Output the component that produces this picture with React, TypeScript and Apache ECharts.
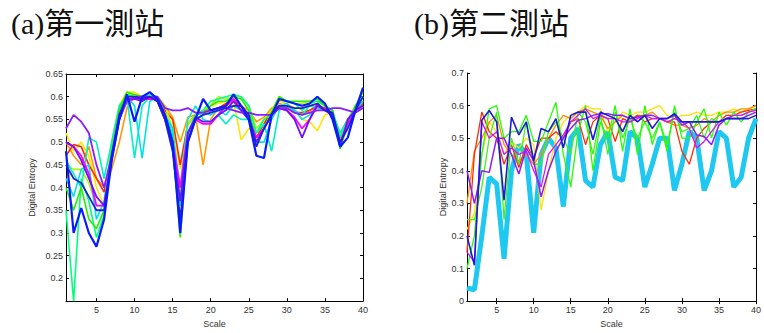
import React, { useEffect, useRef } from "react";
import * as echarts from "echarts";

// ---- Data ----
const scales = Array.from({ length: 40 }, (_, i) => i + 1);
const xTickValues = [5, 10, 15, 20, 25, 30, 35, 40];
const titleA = "(a)第一測站";
const titleB = "(b)第二測站";

// Station 1 (left) series
const aOrange = [0.5,0.47,0.45,0.49,0.42,0.4,0.44,0.5,0.575,0.6,0.6,0.6,0.6,0.58,0.555,0.5,0.555,0.56,0.45,0.55,0.575,0.58,0.59,0.58,0.57,0.545,0.555,0.575,0.585,0.58,0.57,0.56,0.57,0.58,0.57,0.56,0.52,0.55,0.57,0.59];
const aYellow = [0.52,0.48,0.5,0.47,0.4,0.36,0.5,0.58,0.61,0.61,0.6,0.6,0.6,0.57,0.53,0.44,0.54,0.56,0.57,0.58,0.585,0.59,0.59,0.505,0.53,0.52,0.54,0.57,0.59,0.585,0.575,0.55,0.545,0.525,0.56,0.565,0.49,0.55,0.58,0.6];
const aRed = [0.47,0.495,0.49,0.45,0.42,0.39,0.47,0.56,0.6,0.6,0.6,0.6,0.595,0.57,0.55,0.45,0.54,0.56,0.57,0.57,0.575,0.585,0.595,0.58,0.56,0.51,0.54,0.57,0.58,0.575,0.565,0.565,0.57,0.58,0.575,0.565,0.51,0.55,0.57,0.585];
const aLime = [0.45,0.44,0.44,0.41,0.36,0.36,0.5,0.58,0.61,0.6,0.6,0.6,0.6,0.58,0.53,0.38,0.54,0.56,0.57,0.58,0.6,0.595,0.6,0.6,0.58,0.53,0.55,0.57,0.6,0.59,0.585,0.585,0.59,0.59,0.58,0.57,0.5,0.55,0.58,0.6];
const aCyanA = [0.46,0.43,0.4,0.51,0.5,0.42,0.5,0.58,0.6,0.465,0.58,0.6,0.6,0.56,0.52,0.4,0.55,0.58,0.55,0.545,0.56,0.54,0.56,0.55,0.55,0.52,0.54,0.48,0.57,0.58,0.57,0.56,0.58,0.575,0.57,0.565,0.52,0.55,0.57,0.58];
const aCyanB = [0.42,0.38,0.44,0.45,0.33,0.37,0.48,0.57,0.6,0.58,0.465,0.59,0.6,0.56,0.53,0.36,0.52,0.56,0.565,0.56,0.57,0.56,0.58,0.57,0.55,0.5,0.5,0.55,0.58,0.585,0.57,0.55,0.56,0.58,0.57,0.56,0.5,0.54,0.57,0.59];
const aSpring = [0.35,0.15,0.42,0.37,0.29,0.34,0.47,0.57,0.605,0.6,0.6,0.605,0.6,0.56,0.51,0.31,0.52,0.56,0.57,0.59,0.595,0.6,0.605,0.6,0.58,0.52,0.55,0.56,0.595,0.59,0.585,0.57,0.585,0.59,0.58,0.57,0.51,0.55,0.575,0.6];
const aGreen = [0.4,0.35,0.4,0.33,0.31,0.35,0.48,0.57,0.61,0.605,0.6,0.6,0.59,0.55,0.5,0.29,0.51,0.55,0.56,0.58,0.59,0.59,0.6,0.595,0.57,0.5,0.53,0.565,0.6,0.59,0.59,0.59,0.59,0.595,0.58,0.57,0.485,0.54,0.58,0.61];
const aMagenta = [0.5,0.49,0.47,0.43,0.36,0.36,0.47,0.56,0.59,0.595,0.595,0.595,0.595,0.56,0.5,0.4,0.52,0.55,0.54,0.54,0.56,0.58,0.595,0.57,0.55,0.51,0.53,0.56,0.575,0.57,0.555,0.53,0.55,0.585,0.57,0.56,0.5,0.54,0.57,0.58];
const aViolet = [0.5,0.49,0.46,0.42,0.38,0.36,0.46,0.55,0.595,0.595,0.59,0.6,0.59,0.55,0.49,0.37,0.52,0.555,0.545,0.545,0.56,0.57,0.59,0.57,0.55,0.5,0.53,0.56,0.575,0.57,0.55,0.51,0.55,0.58,0.57,0.56,0.49,0.55,0.57,0.58];
const aPurple = [0.53,0.56,0.545,0.52,0.45,0.4,0.47,0.55,0.59,0.6,0.6,0.6,0.6,0.575,0.57,0.57,0.575,0.565,0.565,0.57,0.575,0.575,0.57,0.565,0.565,0.56,0.56,0.56,0.575,0.575,0.565,0.56,0.565,0.57,0.57,0.575,0.575,0.57,0.565,0.575];
const aNavy = [0.45,0.42,0.41,0.38,0.35,0.35,0.47,0.56,0.6,0.6,0.595,0.6,0.59,0.55,0.48,0.33,0.5,0.55,0.56,0.565,0.57,0.575,0.58,0.58,0.56,0.49,0.53,0.56,0.58,0.58,0.575,0.575,0.58,0.585,0.57,0.565,0.5,0.53,0.57,0.6];
const aBlue = [0.48,0.3,0.355,0.3,0.27,0.33,0.46,0.55,0.605,0.545,0.6,0.61,0.595,0.56,0.5,0.3,0.5,0.55,0.595,0.57,0.575,0.58,0.605,0.58,0.55,0.47,0.465,0.56,0.595,0.59,0.585,0.58,0.585,0.6,0.585,0.55,0.49,0.51,0.57,0.62];

// Station 2 (right) series
const bCyan = [0.04,0.035,0.2,0.38,0.36,0.13,0.4,0.48,0.45,0.21,0.45,0.5,0.47,0.29,0.5,0.53,0.37,0.35,0.48,0.52,0.38,0.37,0.52,0.5,0.35,0.42,0.5,0.5,0.34,0.42,0.52,0.5,0.34,0.4,0.52,0.5,0.35,0.38,0.5,0.56];
const bYellow = [0.22,0.27,0.45,0.55,0.52,0.45,0.49,0.47,0.5,0.48,0.28,0.4,0.5,0.55,0.57,0.58,0.6,0.59,0.59,0.52,0.55,0.58,0.57,0.58,0.58,0.59,0.6,0.57,0.56,0.57,0.57,0.58,0.57,0.57,0.58,0.58,0.59,0.58,0.59,0.6];
const bOrange = [0.3,0.46,0.5,0.55,0.57,0.48,0.45,0.43,0.45,0.42,0.45,0.5,0.54,0.57,0.56,0.58,0.59,0.58,0.57,0.53,0.55,0.57,0.56,0.57,0.57,0.58,0.56,0.55,0.54,0.54,0.53,0.54,0.56,0.55,0.57,0.58,0.58,0.59,0.59,0.6];
const bRed = [0.15,0.45,0.58,0.52,0.5,0.42,0.48,0.41,0.48,0.44,0.5,0.5,0.52,0.5,0.55,0.56,0.48,0.55,0.57,0.56,0.49,0.56,0.55,0.57,0.55,0.56,0.56,0.55,0.55,0.46,0.42,0.5,0.53,0.55,0.55,0.57,0.57,0.58,0.585,0.59];
const bLime = [0.25,0.25,0.35,0.5,0.58,0.25,0.5,0.42,0.55,0.42,0.42,0.52,0.55,0.5,0.45,0.58,0.55,0.45,0.57,0.45,0.58,0.5,0.56,0.5,0.55,0.5,0.55,0.48,0.58,0.52,0.53,0.57,0.5,0.56,0.55,0.56,0.57,0.57,0.58,0.59];
const bGreen = [0.1,0.2,0.45,0.59,0.6,0.5,0.52,0.52,0.57,0.49,0.49,0.55,0.61,0.45,0.35,0.52,0.6,0.4,0.55,0.5,0.6,0.46,0.59,0.45,0.6,0.48,0.55,0.46,0.6,0.5,0.5,0.55,0.59,0.5,0.58,0.54,0.58,0.55,0.58,0.59];
const bMagenta = [0.15,0.12,0.55,0.5,0.52,0.45,0.47,0.45,0.46,0.4,0.35,0.45,0.48,0.51,0.55,0.57,0.59,0.56,0.57,0.56,0.56,0.55,0.55,0.56,0.57,0.56,0.56,0.55,0.56,0.55,0.53,0.47,0.49,0.52,0.55,0.56,0.57,0.57,0.58,0.585];
const bPurple = [0.4,0.3,0.4,0.395,0.5,0.5,0.45,0.39,0.47,0.43,0.32,0.4,0.46,0.5,0.53,0.555,0.56,0.57,0.575,0.575,0.57,0.57,0.56,0.565,0.57,0.57,0.56,0.56,0.57,0.54,0.55,0.51,0.505,0.48,0.54,0.56,0.56,0.56,0.57,0.58];
const bBlue = [0.2,0.11,0.555,0.585,0.55,0.31,0.565,0.51,0.55,0.43,0.53,0.52,0.56,0.47,0.57,0.58,0.58,0.495,0.58,0.57,0.56,0.52,0.57,0.55,0.57,0.53,0.56,0.56,0.575,0.55,0.55,0.55,0.55,0.55,0.55,0.56,0.56,0.56,0.56,0.57];

const leftSeries: [string, number[], string, number][] = [
  ["orange", aOrange, "#ff9900", 1.6],
  ["yellow", aYellow, "#ffe600", 1.6],
  ["red", aRed, "#ff2a00", 1.6],
  ["lime", aLime, "#a6ff00", 1.6],
  ["cyanA", aCyanA, "#00f0c8", 1.6],
  ["cyanB", aCyanB, "#00e0e8", 1.6],
  ["spring", aSpring, "#00ff80", 1.6],
  ["green", aGreen, "#22ee00", 1.6],
  ["magenta", aMagenta, "#ff00ff", 1.8],
  ["violet", aViolet, "#7010ff", 1.8],
  ["purple", aPurple, "#8a1cff", 1.8],
  ["navy", aNavy, "#2222cc", 1.8],
  ["blue", aBlue, "#0a1aff", 2.2],
];

const rightSeries: [string, number[], string, number][] = [
  ["cyan", bCyan, "#1ec8f0", 5],
  ["yellow", bYellow, "#ffe000", 1.3],
  ["orange", bOrange, "#ff8c00", 1.3],
  ["red", bRed, "#ff2a00", 1.3],
  ["lime", bLime, "#44ee22", 1.3],
  ["green", bGreen, "#22ff00", 1.3],
  ["magenta", bMagenta, "#e010ff", 1.3],
  ["purple", bPurple, "#8a1cff", 1.5],
  ["blue", bBlue, "#1a1ad8", 1.6],
];

const labelFont = { fontFamily: "Liberation Sans, Arial, sans-serif", fontSize: 9, color: "#333" };

function fmt(v: number) {
  return String(+v.toFixed(2));
}

export default function App() {
  const ref = useRef<HTMLDivElement>(null);
  useEffect(() => {
    if (!ref.current) return;
    const chart = echarts.init(ref.current, null, { renderer: "svg" });
    const axisLine = { show: true, lineStyle: { color: "#000", width: 1 } };
    const tick = { show: true, inside: true, length: 3, lineStyle: { color: "#000" } };

    const makeX = (grid: number, pos: "bottom" | "top") => ({
      type: "value",
      gridIndex: grid,
      position: pos,
      min: 1,
      max: 40,
      splitLine: { show: false },
      axisLine,
      axisTick: { ...tick, customValues: xTickValues },
      axisLabel:
        pos === "bottom"
          ? { ...labelFont, margin: 4, customValues: xTickValues }
          : { show: false },
      name: pos === "bottom" ? "Scale" : "",
      nameLocation: "middle",
      nameGap: 14,
      nameTextStyle: { ...labelFont },
    });

    const makeY = (
      grid: number,
      pos: "left" | "right",
      min: number,
      max: number,
      interval: number,
      gap: number,
      showMin: boolean
    ) => ({
      type: "value",
      gridIndex: grid,
      position: pos,
      min,
      max,
      interval,
      splitLine: { show: false },
      axisLine,
      axisTick: tick,
      axisLabel:
        pos === "left"
          ? { ...labelFont, margin: 3, showMinLabel: showMin, formatter: fmt }
          : { show: false },
      name: pos === "left" ? "Digital Entropy" : "",
      nameLocation: "middle",
      nameGap: gap,
      nameRotate: 90,
      nameTextStyle: { ...labelFont },
    });

    const series: any[] = [];
    leftSeries.forEach(([name, vals, color, w]) => {
      series.push({
        type: "line",
        name,
        xAxisIndex: 0,
        yAxisIndex: 0,
        data: vals.map((v, i) => [scales[i], v]),
        showSymbol: false,
        lineStyle: { color, width: w },
        itemStyle: { color },
        silent: true,
      });
    });
    rightSeries.forEach(([name, vals, color, w]) => {
      series.push({
        type: "line",
        name,
        xAxisIndex: 2,
        yAxisIndex: 2,
        data: vals.map((v, i) => [scales[i], v]),
        showSymbol: false,
        lineStyle: { color, width: w },
        itemStyle: { color },
        silent: true,
      });
    });

    chart.setOption({
      animation: false,
      backgroundColor: "#fff",
      grid: [
        { left: 66, top: 74, width: 297, height: 234 },
        { left: 467, top: 73, width: 296, height: 234 },
      ],
      xAxis: [makeX(0, "bottom"), makeX(0, "top"), makeX(1, "bottom"), makeX(1, "top")],
      yAxis: [
        makeY(0, "left", 0.15, 0.65, 0.05, 30, false),
        makeY(0, "right", 0.15, 0.65, 0.05, 0, false),
        makeY(1, "left", 0, 0.7, 0.1, 20, true),
        makeY(1, "right", 0, 0.7, 0.1, 0, true),
      ],
      graphic: [
        {
          type: "text",
          left: 11,
          top: 8,
          style: {
            text: titleA,
            fontSize: 30,
            fontFamily: "Liberation Serif, Noto Sans CJK TC, serif",
            fill: "#111",
          },
        },
        {
          type: "text",
          left: 414,
          top: 8,
          style: {
            text: titleB,
            fontSize: 30,
            fontFamily: "Liberation Serif, Noto Sans CJK TC, serif",
            fill: "#111",
          },
        },
      ],
      series,
    });
    return () => chart.dispose();
  }, []);
  return (
    <div
      ref={ref}
      style={{ position: "absolute", left: 0, top: 0, width: 764, height: 333 }}
    />
  );
}
